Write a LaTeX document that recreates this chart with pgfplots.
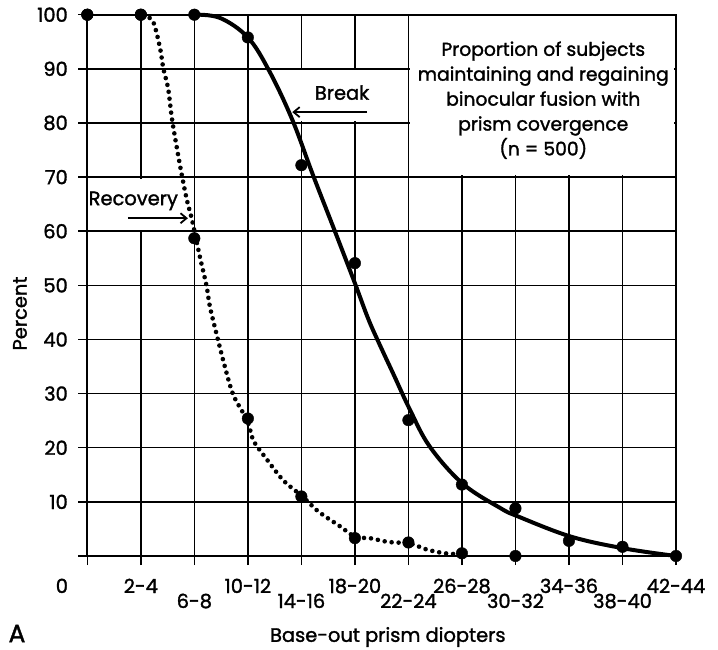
\documentclass[border=0pt]{standalone}
\usepackage{pgfplots}
\pgfplotsset{compat=1.18}
\usepackage{fontspec}
\setmainfont{Poppins}[FakeBold=1.5]
\usetikzlibrary{arrows.meta}
\pgfplotstableread{
x y
0 100
1 100
2 100
3 95.8
4 72.2
5 54.1
6 25.1
7 13.2
8 8.8
9 2.8
10 1.7
11 0
}\breakdots
\pgfplotstableread{
x y
0 100
1 100
2 58.7
3 25.4
4 11.0
5 3.3
6 2.5
7 0.5
8 0
}\recoverydots
\pgfplotstableread{
x y
2 100
2.48 99.4
3 95.8
3.4 89.6
3.83 80.6
4.22 70.3
4.63 59.9
5.0 50.4
5.25 43.8
5.47 38.9
5.72 33.6
6.03 27.0
6.40 20.2
7.01 13.4
7.71 8.9
8.05 7.3
9.03 3.6
10.03 1.4
11 0
}\breakcurve
\pgfplotstableread{
x y
1.05 100
1.23 98.7
1.36 93.8
1.42 90.1
1.51 86.4
1.58 80.9
1.67 75.6
1.76 70.7
1.86 65.8
1.95 62.4
2.03 58.7
2.11 55
2.23 49.8
2.29 46.1
2.42 40.8
2.57 35
2.73 29.7
2.99 25.0
3.10 21.4
3.32 18.3
3.66 14
4.02 11
4.32 8.2
4.72 5.5
5.01 3.5
5.28 3.3
5.62 2.6
6.03 2.3
6.34 1.2
6.68 0.5
7.01 0.3
}\recoverycurve
\begin{document}
\begin{tikzpicture}[font=\fontsize{19.5}{23}\selectfont]
\path[use as bounding box] (-87.3bp,-94bp) rectangle (630.7bp,556bp);
\begin{axis}[
  at={(0,0)}, anchor=south west,
  scale only axis, width=588.7bp, height=541.3bp,
  xmin=0, xmax=11, ymin=0, ymax=100,
  clip=false,
  xtick={0,...,11},
  xticklabels={{\makebox[0pt][r]{0\hspace{19.3bp}}},2-4,\lower15bp\hbox{6-8},10-12,\lower15bp\hbox{14-16},18-20,\lower15bp\hbox{22-24},26-28,\lower15bp\hbox{30-32},34-36,\lower15bp\hbox{38-40},42-44},
  ytick={0,10,...,100},
  yticklabels={,10,20,30,40,50,60,70,80,90,100},
  /pgf/number format/assume math mode=true,
  tick pos=left,
  grid=major,
  grid style={black, line width=1.5bp},
  axis line style={black, line width=1.8bp},
  tick style={black, line width=1.5bp},
  tick align=outside,
  major tick length=9bp,
  xticklabel style={anchor=base, inner sep=0pt, yshift=-28bp},
  yticklabel style={anchor=east, inner sep=0pt, xshift=-10.3bp},
  xlabel={Base-out prism diopters},
  xlabel style={at={(axis description cs:0.5105,-0.1496)}, anchor=center},
  ylabel={Percent},
  ylabel style={at={(axis description cs:-0.1143,0.448)}, anchor=center},
]
\fill[white] (axis cs:3.7,80.3) rectangle (axis cs:5.97,89.7);
\fill[white] (axis cs:0.035,60.3) rectangle (axis cs:1.97,69.7);
\fill[white] (axis cs:6.03,70.3) rectangle (axis cs:10.96,99.7);
\addplot[black, line width=4bp, smooth, tension=0.6] table[x=x,y=y] {\breakcurve};
\addplot[black, line width=4.6bp, dash pattern=on 0pt off 7bp, line cap=round, smooth, tension=0.5] table[x=x,y=y] {\recoverycurve};
\addplot[only marks, mark=*, mark size=5.8bp, black] table[x=x,y=y] {\breakdots};
\addplot[only marks, mark=*, mark size=5.8bp, black] table[x=x,y=y] {\recoverydots};
\node[align=center, font=\fontsize{18.8}{25}\selectfont] at (axis cs:8.52,84.2) {Proportion of subjects\\maintaining and regaining\\binocular fusion with\\prism covergence\\(n = 500)};
\node at (axis cs:4.76,85.6) {Break};
\draw[black, line width=1.8bp, -{Straight Barb[length=6bp,width=10bp]}] (axis cs:5.23,82) -- (axis cs:3.83,82);
\node at (axis cs:0.86,65.6) {Recovery};
\draw[black, line width=1.8bp, -{Straight Barb[length=6bp,width=10bp]}] (axis cs:0.76,62.4) -- (axis cs:1.88,62.4);
\end{axis}
\node[font=\fontsize{25}{28}\selectfont] at (-70.3bp,-77.5bp) {A};
\end{tikzpicture}
\end{document}
